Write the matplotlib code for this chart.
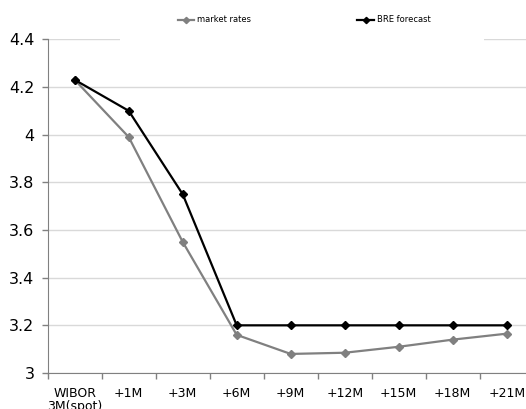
import matplotlib.pyplot as plt
from matplotlib.patches import Rectangle

categories = ["WIBOR\n3M(spot)", "+1M", "+3M", "+6M", "+9M", "+12M", "+15M", "+18M", "+21M"]
market_rates = [4.23, 3.99, 3.55, 3.16, 3.08, 3.085, 3.11, 3.14, 3.165]
bre_forecast = [4.23, 4.10, 3.75, 3.20, 3.20, 3.20, 3.20, 3.20, 3.20]
y_ticks = [3, 3.2, 3.4, 3.6, 3.8, 4, 4.2, 4.4]
y_labels = ["3", "3.2", "3.4", "3.6", "3.8", "4", "4.2", "4.4"]

fig = plt.figure(figsize=(5.26, 4.09), dpi=100)
ax = fig.add_axes([47.7 / 526, (409 - 373) / 409, 486 / 526, (373 - 39.3) / 409])

x = list(range(len(categories)))
ax.plot(x, market_rates, color="#808080", lw=1.6, marker="D", ms=4, label="market rates", zorder=3)
ax.plot(x, bre_forecast, color="black", lw=1.6, marker="D", ms=4, label="BRE forecast", zorder=4)

ax.set_xlim(-0.5, len(categories) - 0.5)
ax.set_ylim(3, 4.4)
ax.set_yticks(y_ticks)
ax.set_yticklabels(y_labels, fontsize=11.5)
ax.yaxis.grid(True, color="#d9d9d9", lw=1)
ax.set_axisbelow(True)

ax.set_xticks(x)
ax.set_xticklabels(categories, fontsize=9, linespacing=1.0)
ax.set_xticks([i - 0.5 for i in range(len(categories) + 1)], minor=True)
ax.tick_params(axis="x", which="major", length=0, pad=10)
ax.tick_params(axis="x", which="minor", length=4.5, color="#808080", width=1)
ax.tick_params(axis="y", length=4.5, color="#808080", width=1, pad=5)

for side in ["top", "right"]:
    ax.spines[side].set_visible(False)
for side in ["left", "bottom"]:
    ax.spines[side].set_color("#808080")

# white legend area covering top gridline
fig.patches.append(Rectangle((120 / 526, 1 - 41 / 409), (484 - 120) / 526, 41 / 409,
                             transform=fig.transFigure, facecolor="white", edgecolor="none", zorder=5))
handles, labels = ax.get_legend_handles_labels()
leg = fig.legend(handles, labels, ncol=2, loc="center left", bbox_to_anchor=(170 / 526, 1 - 20 / 409),
                 frameon=False, fontsize=6.0, handlelength=2.0, handletextpad=0.3, columnspacing=12.8,
                 markerscale=0.8)
leg.set_zorder(6)

fig.savefig("out.png", dpi=100)
